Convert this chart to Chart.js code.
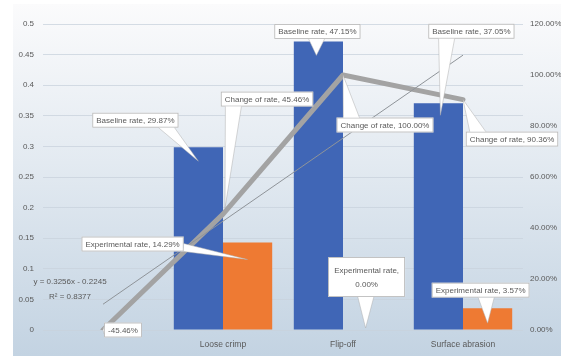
<!DOCTYPE html>
<html>
<head>
<meta charset="utf-8">
<script src="https://cdn.jsdelivr.net/npm/chart.js@4.4.1/dist/chart.umd.min.js"></script>
<style>
  html, body { margin: 0; padding: 0; background: #ffffff; }
  #wrap { position: relative; width: 561px; height: 356px; }
</style>
</head>
<body>
<div id="wrap"><canvas id="c" width="561" height="356"></canvas></div>
<script>
// ---------------- data ----------------
const categories = ['', 'Loose crimp', 'Flip-off', 'Surface abrasion'];
const baselineRate = [null, 0.2987, 0.4715, 0.3705];          // left axis
const experimentalRate = [null, 0.1429, 0.0, 0.0357];         // left axis
const changeRate = [-45.46, 45.46, 100.00, 90.36];            // right axis, %
const trendlineRate = [10.11, null, null, 107.79];            // right axis, % (read endpoints)
const trendEquation = ['y = 0.3256x - 0.2245', 'R\u00B2 = 0.8377'];
const leftAxis = { min: 0, max: 0.5, step: 0.05 };
const rightAxis = { min: 0, max: 120, step: 20 };

// ---------------- styling ----------------
const FONT = "'Liberation Sans Narrow', 'Liberation Sans', sans-serif";
const TXT = '#595959';

const pct = v => v.toFixed(2) + '%';

// callout placements (styles only: offsets from the element)
const callouts = [
  { ds: 0, i: 1, lines: ['Baseline rate, ' + pct(baselineRate[1] * 100)], box: [-63, -27], tip: [0, 14] },
  { ds: 0, i: 2, lines: ['Baseline rate, ' + pct(baselineRate[2] * 100)], box: [-1, -10], tip: [-2, 14] },
  { ds: 0, i: 3, lines: ['Baseline rate, ' + pct(baselineRate[3] * 100)], box: [33, -72], tip: [2, 12] },
  { ds: 1, i: 1, lines: ['Experimental rate, ' + pct(experimentalRate[1] * 100)], box: [-115, 1.5], tip: [0, 17] },
  { ds: 1, i: 2, lines: ['Experimental rate,', pct(experimentalRate[2] * 100)], box: [-1, -53], tip: [-2, -2], w: 77, h: 40 },
  { ds: 1, i: 3, lines: ['Experimental rate, ' + pct(experimentalRate[3] * 100)], box: [-7, -18], tip: [0, 15] },
  { ds: 2, i: 0, lines: [pct(changeRate[0])], box: [20, 0], tip: [0, 0] },
  { ds: 2, i: 1, lines: ['Change of rate, ' + pct(changeRate[1])], box: [44, -115], tip: [2, -6] },
  { ds: 2, i: 2, lines: ['Change of rate, ' + pct(changeRate[2])], box: [42, 50], tip: [0, 0] },
  { ds: 2, i: 3, lines: ['Change of rate, ' + pct(changeRate[3])], box: [49, 39.5], tip: [0, 0] },
];

const bgPlugin = {
  id: 'bg',
  beforeDraw(chart) {
    const ctx = chart.ctx;
    ctx.save();
    const g = ctx.createLinearGradient(0, 4, 0, 356);
    g.addColorStop(0, '#fbfbfc');
    g.addColorStop(0.45, '#e3eaf1');
    g.addColorStop(1, '#c3d3e2');
    ctx.fillStyle = g;
    ctx.fillRect(13, 4, 561 - 13, 356 - 4);
    ctx.restore();
  }
};

function clamp(v, a, b) { return Math.max(a, Math.min(b, v)); }

const calloutPlugin = {
  id: 'callouts',
  afterDatasetsDraw(chart) {
    const ctx = chart.ctx;
    ctx.save();
    ctx.font = '8px ' + FONT;
    callouts.forEach(c => {
      const el = chart.getDatasetMeta(c.ds).data[c.i];
      if (!el) return;
      const tx = el.x + c.tip[0], ty = el.y + c.tip[1];
      const cx = el.x + c.box[0], cy = el.y + c.box[1];
      const tw = Math.max(...c.lines.map(l => ctx.measureText(l).width));
      const w = c.w || (tw + 8);
      const h = c.h || (c.lines.length * 10 + 5);
      const L = cx - w / 2, R = cx + w / 2, T = cy - h / 2, B = cy + h / 2;
      const dxo = tx > R ? tx - R : (tx < L ? L - tx : 0);
      const dyo = ty > B ? ty - B : (ty < T ? T - ty : 0);
      let p1, p2;
      if (dxo > dyo) {
        const sx = tx > R ? R : L;
        const by = clamp(ty, T + 4, B - 4);
        p1 = [sx, by - 4]; p2 = [sx, by + 4];
      } else {
        const sy = ty > B ? B : T;
        const bx = clamp(tx + (cx - tx) * 0.2, L + 12, R - 12);
        p1 = [bx - 8, sy]; p2 = [bx + 8, sy];
      }
      // box
      ctx.fillStyle = '#ffffff';
      ctx.strokeStyle = 'rgba(150,150,150,0.7)';
      ctx.lineWidth = 0.8;
      ctx.fillRect(L, T, w, h);
      ctx.strokeRect(L + 0.5, T + 0.5, w - 1, h - 1);
      // wedge
      if (dxo > 0 || dyo > 0) {
        ctx.beginPath();
        ctx.moveTo(p1[0], p1[1]);
        ctx.lineTo(tx, ty);
        ctx.lineTo(p2[0], p2[1]);
        ctx.closePath();
        ctx.fillStyle = '#ffffff';
        ctx.fill();
        ctx.beginPath();
        ctx.moveTo(p1[0], p1[1]);
        ctx.lineTo(tx, ty);
        ctx.lineTo(p2[0], p2[1]);
        ctx.strokeStyle = 'rgba(170,170,170,0.6)';
        ctx.stroke();
      }
      // text
      ctx.fillStyle = TXT;
      ctx.textAlign = 'center';
      ctx.textBaseline = 'middle';
      const n = c.lines.length;
      const lh = c.h ? 14 : 10;
      c.lines.forEach((l, k) => {
        ctx.fillText(l, cx, cy + (k - (n - 1) / 2) * lh + 0.5);
      });
    });
    // trendline equation
    const tEl = chart.getDatasetMeta(3).data[0];
    if (tEl) {
      ctx.fillStyle = TXT;
      ctx.textAlign = 'center';
      ctx.textBaseline = 'middle';
      ctx.fillText(trendEquation[0], tEl.x - 33, tEl.y - 22);
      ctx.fillText(trendEquation[1], tEl.x - 33, tEl.y - 7);
    }
    ctx.restore();
  }
};

new Chart(document.getElementById('c'), {
  data: {
    labels: categories,
    datasets: [
      { type: 'bar', label: 'Baseline rate', data: baselineRate, backgroundColor: '#4066b6', yAxisID: 'y', order: 3,
        categoryPercentage: 0.82, barPercentage: 1.0 },
      { type: 'bar', label: 'Experimental rate', data: experimentalRate, backgroundColor: '#ee7a33', yAxisID: 'y', order: 3,
        categoryPercentage: 0.82, barPercentage: 1.0 },
      { type: 'line', label: 'Change of rate', data: changeRate.map(v => Math.max(v, rightAxis.min)), yAxisID: 'y1',
        borderColor: '#a3a3a3', borderWidth: 5, pointRadius: 0, tension: 0, order: 1, borderJoinStyle: 'round', borderCapStyle: 'round' },
      { type: 'line', label: 'Trend', data: trendlineRate, yAxisID: 'y1', spanGaps: true,
        borderColor: '#8f9499', borderWidth: 1, pointRadius: 0, tension: 0, order: 0 },
    ]
  },
  options: {
    responsive: false,
    animation: false,
    events: [],
    layout: { padding: { top: 24, left: 0, right: 0, bottom: 0 } },
    plugins: { legend: { display: false }, tooltip: { enabled: false } },
    scales: {
      x: {
        grid: { display: false, drawTicks: false },
        border: { display: false },
        ticks: { color: TXT, font: { family: FONT, size: 8.5 }, padding: 10, maxRotation: 0 },
        afterFit(s) { s.height = 26; }
      },
      y: {
        position: 'left',
        min: leftAxis.min, max: leftAxis.max,
        ticks: { stepSize: leftAxis.step, color: TXT, font: { family: FONT, size: 8 }, padding: 9,
          callback: v => String(+v.toFixed(2)) },
        grid: { color: 'rgba(200,210,220,0.75)', lineWidth: 1, drawTicks: false },
        border: { display: false },
        afterFit(s) { s.width = 43; }
      },
      y1: {
        position: 'right',
        min: rightAxis.min, max: rightAxis.max,
        ticks: { stepSize: rightAxis.step, color: TXT, font: { family: FONT, size: 8 }, padding: 7,
          callback: v => v.toFixed(2) + '%' },
        grid: { display: false, drawTicks: false },
        border: { display: false },
        afterFit(s) { s.width = 38; }
      }
    }
  },
  plugins: [bgPlugin, calloutPlugin]
});
</script>
</body>
</html>
